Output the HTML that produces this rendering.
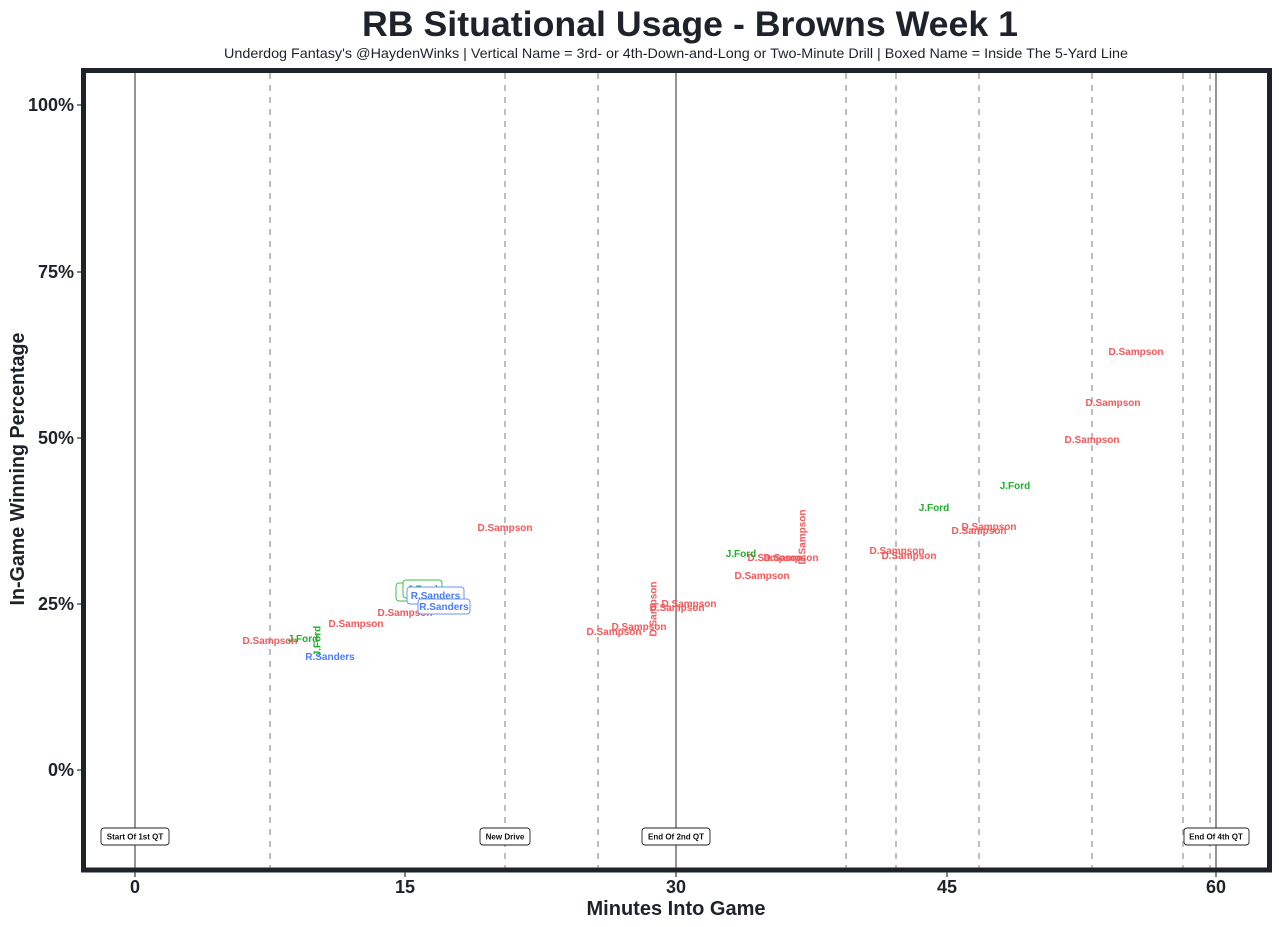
<!DOCTYPE html>
<html><head><meta charset="utf-8"><style>
html,body{margin:0;padding:0;background:#fff;}
svg{display:block;}
text{font-family:"Liberation Sans",Arial,sans-serif;}
</style></head><body>
<svg width="1279" height="927" viewBox="0 0 1279 927" xmlns="http://www.w3.org/2000/svg">
<rect width="1279" height="927" fill="#fff"/>
<!-- title -->
<text x="690" y="36" font-size="35" font-weight="bold" fill="#1e222a" text-anchor="middle" textLength="656" lengthAdjust="spacingAndGlyphs">RB Situational Usage - Browns Week 1</text>
<text x="676" y="58" font-size="14" fill="#1e222a" text-anchor="middle" textLength="904" lengthAdjust="spacingAndGlyphs">Underdog Fantasy's @HaydenWinks | Vertical Name = 3rd- or 4th-Down-and-Long or Two-Minute Drill | Boxed Name = Inside The 5-Yard Line</text>

<!-- vertical lines -->
<g stroke="#aaaaaa" stroke-width="1.5" stroke-dasharray="6,6">
<line x1="270" y1="73" x2="270" y2="868"/>
<line x1="505" y1="73" x2="505" y2="868"/>
<line x1="598" y1="73" x2="598" y2="868"/>
<line x1="846" y1="73" x2="846" y2="868"/>
<line x1="896" y1="73" x2="896" y2="868"/>
<line x1="979" y1="73" x2="979" y2="868"/>
<line x1="1092" y1="73" x2="1092" y2="868"/>
<line x1="1183" y1="73" x2="1183" y2="868"/>
<line x1="1210" y1="73" x2="1210" y2="868"/>
</g>
<g stroke="#666666" stroke-width="1.4">
<line x1="135" y1="73" x2="135" y2="868"/>
<line x1="676" y1="73" x2="676" y2="868"/>
<line x1="1216" y1="73" x2="1216" y2="868"/>
</g>

<!-- data labels -->
<g font-size="10" font-weight="bold" text-anchor="middle">
<g fill="#f5585a">
<text x="270" y="644">D.Sampson</text>
<text x="356" y="627">D.Sampson</text>
<text x="405" y="616">D.Sampson</text>
<text x="505" y="531">D.Sampson</text>
<text x="614" y="635">D.Sampson</text>
<text x="639" y="630">D.Sampson</text>
<text x="677" y="611">D.Sampson</text>
<text x="689" y="607">D.Sampson</text>
<text x="775" y="561">D.Sampson</text>
<text x="791" y="561">D.Sampson</text>
<text x="762" y="579">D.Sampson</text>
<text x="897" y="554">D.Sampson</text>
<text x="909" y="559">D.Sampson</text>
<text x="989" y="530">D.Sampson</text>
<text x="979" y="534">D.Sampson</text>
<text x="1092" y="443">D.Sampson</text>
<text x="1113" y="406">D.Sampson</text>
<text x="1136" y="355">D.Sampson</text>
<text transform="translate(656.5,609) rotate(-90)">D.Sampson</text>
<text transform="translate(805.5,537) rotate(-90)">D.Sampson</text>
</g>
<g fill="#1fb02b">
<text x="303" y="642">J.Ford</text>
<text x="741" y="557">J.Ford</text>
<text x="934" y="511">J.Ford</text>
<text x="1015" y="489">J.Ford</text>
<text transform="translate(320.5,641) rotate(-90)">J.Ford</text>
</g>
<g fill="#4a7cf5">
<text x="330" y="660">R.Sanders</text>
</g>
<!-- boxed -->
<rect x="396" y="583" width="44" height="18" rx="3" fill="#fff" stroke="#3cc044" stroke-width="1"/>
<text x="418" y="595.5" fill="#1fb02b">J.Ford</text>
<rect x="403" y="580" width="39" height="18" rx="3" fill="#fff" stroke="#3cc044" stroke-width="1"/>
<text x="422.5" y="592.5" fill="#1fb02b">J.Ford</text>
<rect x="407" y="587" width="57" height="17" rx="3" fill="#fff" stroke="#6b94f5" stroke-width="1"/>
<text x="435.5" y="599" fill="#4a7cf5">R.Sanders</text>
<rect x="418" y="599" width="52" height="15" rx="3" fill="#fff" stroke="#6b94f5" stroke-width="1"/>
<text x="444" y="610" fill="#4a7cf5">R.Sanders</text>
</g>

<!-- bottom annotation labels -->
<g font-size="8" font-weight="bold" text-anchor="middle" fill="#111">
<rect x="101" y="828" width="68" height="17" rx="3" fill="#fff" stroke="#222" stroke-width="0.9"/>
<text x="135" y="839.5">Start Of 1st QT</text>
<rect x="480" y="828" width="50" height="17" rx="3" fill="#fff" stroke="#222" stroke-width="0.9"/>
<text x="505" y="839.5">New Drive</text>
<rect x="642" y="828" width="68" height="17" rx="3" fill="#fff" stroke="#222" stroke-width="0.9"/>
<text x="676" y="839.5">End Of 2nd QT</text>
<rect x="1184" y="828" width="65" height="17" rx="3" fill="#fff" stroke="#222" stroke-width="0.9"/>
<text x="1216" y="839.5">End Of 4th QT</text>
</g>

<!-- panel border -->
<rect x="83.5" y="70.5" width="1186" height="799.5" fill="none" stroke="#1e222a" stroke-width="5"/>

<!-- ticks -->
<g stroke="#333" stroke-width="1.2">
<line x1="77" y1="105" x2="81" y2="105"/>
<line x1="77" y1="272" x2="81" y2="272"/>
<line x1="77" y1="438" x2="81" y2="438"/>
<line x1="77" y1="604" x2="81" y2="604"/>
<line x1="77" y1="770" x2="81" y2="770"/>
<line x1="135" y1="872" x2="135" y2="877"/>
<line x1="405" y1="872" x2="405" y2="877"/>
<line x1="676" y1="872" x2="676" y2="877"/>
<line x1="947" y1="872" x2="947" y2="877"/>
<line x1="1216" y1="872" x2="1216" y2="877"/>
</g>
<g font-size="18" font-weight="bold" fill="#1e222a" text-anchor="end">
<text x="74" y="111">100%</text>
<text x="74" y="278">75%</text>
<text x="74" y="444">50%</text>
<text x="74" y="610">25%</text>
<text x="74" y="776">0%</text>
</g>
<g font-size="18" font-weight="bold" fill="#1e222a" text-anchor="middle">
<text x="135" y="893">0</text>
<text x="405" y="893">15</text>
<text x="676" y="893">30</text>
<text x="947" y="893">45</text>
<text x="1216" y="893">60</text>
</g>
<text x="676" y="915" font-size="20" font-weight="bold" fill="#1e222a" text-anchor="middle" textLength="179" lengthAdjust="spacingAndGlyphs">Minutes Into Game</text>
<text transform="translate(24,469) rotate(-90)" font-size="20" font-weight="bold" fill="#1e222a" text-anchor="middle" textLength="273" lengthAdjust="spacingAndGlyphs">In-Game Winning Percentage</text>
</svg>
</body></html>
